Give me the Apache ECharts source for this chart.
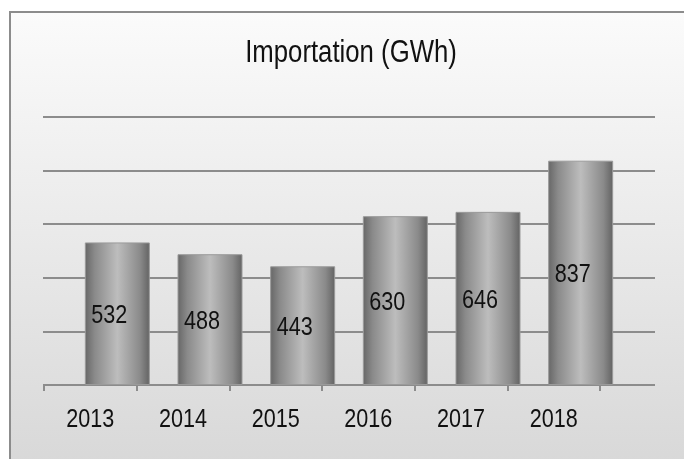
<!DOCTYPE html>
<html>
<head>
<meta charset="utf-8">
<script src="https://cdn.jsdelivr.net/npm/echarts@6/dist/echarts.min.js"></script>
<style>
  html, body { margin: 0; padding: 0; background: #fff; }
  #chart { width: 684px; height: 459px; }
</style>
</head>
<body>
<div id="chart"></div>
<script>
// data
var years = ['2013', '2014', '2015', '2016', '2017', '2018'];
var imports = [532, 488, 443, 630, 646, 837];
var titleText = 'Importation (GWh)';

var font = "'Liberation Sans', Arial, sans-serif";
var squeeze = 0.83; // the source uses a narrow font, so squeeze the text a bit
var myChart = echarts.init(document.getElementById('chart'));

// bars look like cylinders: dark edges, light middle
var barColor = new echarts.graphic.LinearGradient(0, 0, 1, 0, [
  { offset: 0, color: '#666666' },
  { offset: 0.15, color: '#8a8a8a' },
  { offset: 0.5, color: '#bdbdbd' },
  { offset: 0.85, color: '#8a8a8a' },
  { offset: 1, color: '#626262' }
]);

// narrow text drawn through the axes
function textItem(x, y, str) {
  return {
    type: 'text',
    x: x,
    y: y,
    scaleX: squeeze,
    style: {
      text: str, font: '26px ' + font, fill: '#111',
      align: 'center', verticalAlign: 'middle'
    }
  };
}

var option = {
  animation: false,
  graphic: [
    {
      type: 'rect',
      z: -10,
      shape: { x: 10, y: 12, width: 700, height: 480 },
      style: {
        fill: new echarts.graphic.LinearGradient(0, 0, 0, 1, [
          { offset: 0, color: '#fbfbfb' },
          { offset: 1, color: '#d6d6d6' }
        ]),
        stroke: '#8c8c8c',
        lineWidth: 2
      }
    },
    {
      type: 'text',
      x: 351,
      y: 53,
      scaleX: squeeze,
      style: {
        text: titleText, font: '31px ' + font, fill: '#111',
        align: 'center', verticalAlign: 'middle'
      }
    }
  ],
  grid: [
    // back wall with gridlines
    { left: 43, right: 29, top: 117, bottom: 74 },
    // category labels
    { left: 44, width: 556, top: 117, bottom: 74 },
    // bars, shifted right by the depth offset
    { left: 71, width: 556, top: 117, bottom: 74 }
  ],
  xAxis: [
    { type: 'category', gridIndex: 0, data: years, show: false },
    {
      type: 'category', gridIndex: 1, data: years,
      axisLine: { show: false },
      axisTick: { show: true, length: 6, lineStyle: { color: '#8c8c8c', width: 2 } },
      axisLabel: { show: false }
    },
    { type: 'category', gridIndex: 2, data: years, show: false }
  ],
  yAxis: [
    {
      type: 'value', gridIndex: 0, min: 0, max: 1000, interval: 200,
      axisLine: { show: false }, axisTick: { show: false }, axisLabel: { show: false },
      splitLine: { lineStyle: { color: '#8c8c8c', width: 2 } }
    },
    { type: 'value', gridIndex: 1, min: 0, max: 1000, show: false },
    { type: 'value', gridIndex: 2, min: 0, max: 1000, show: false }
  ],
  series: [
    {
      name: titleText,
      type: 'bar',
      xAxisIndex: 2,
      yAxisIndex: 2,
      barWidth: 65,
      data: imports,
      itemStyle: { color: barColor, borderColor: '#9a9a9a', borderWidth: 1 }
    },
    {
      // value labels in the middle of each bar
      type: 'custom',
      xAxisIndex: 2,
      yAxisIndex: 2,
      data: imports.map(function (v, i) { return [i, v]; }),
      renderItem: function (params, api) {
        var p = api.coord([api.value(0), api.value(1) / 2]);
        return textItem(p[0] - 8, p[1] + 2, String(api.value(1)));
      },
      z: 5
    },
    {
      // year labels under the axis
      type: 'custom',
      xAxisIndex: 1,
      yAxisIndex: 1,
      data: years.map(function (y, i) { return [i, 0]; }),
      renderItem: function (params, api) {
        var p = api.coord([api.value(0), 0]);
        return textItem(p[0], p[1] + 35, years[params.dataIndex]);
      }
    }
  ]
};

option && myChart.setOption(option);
</script>
</body>
</html>
